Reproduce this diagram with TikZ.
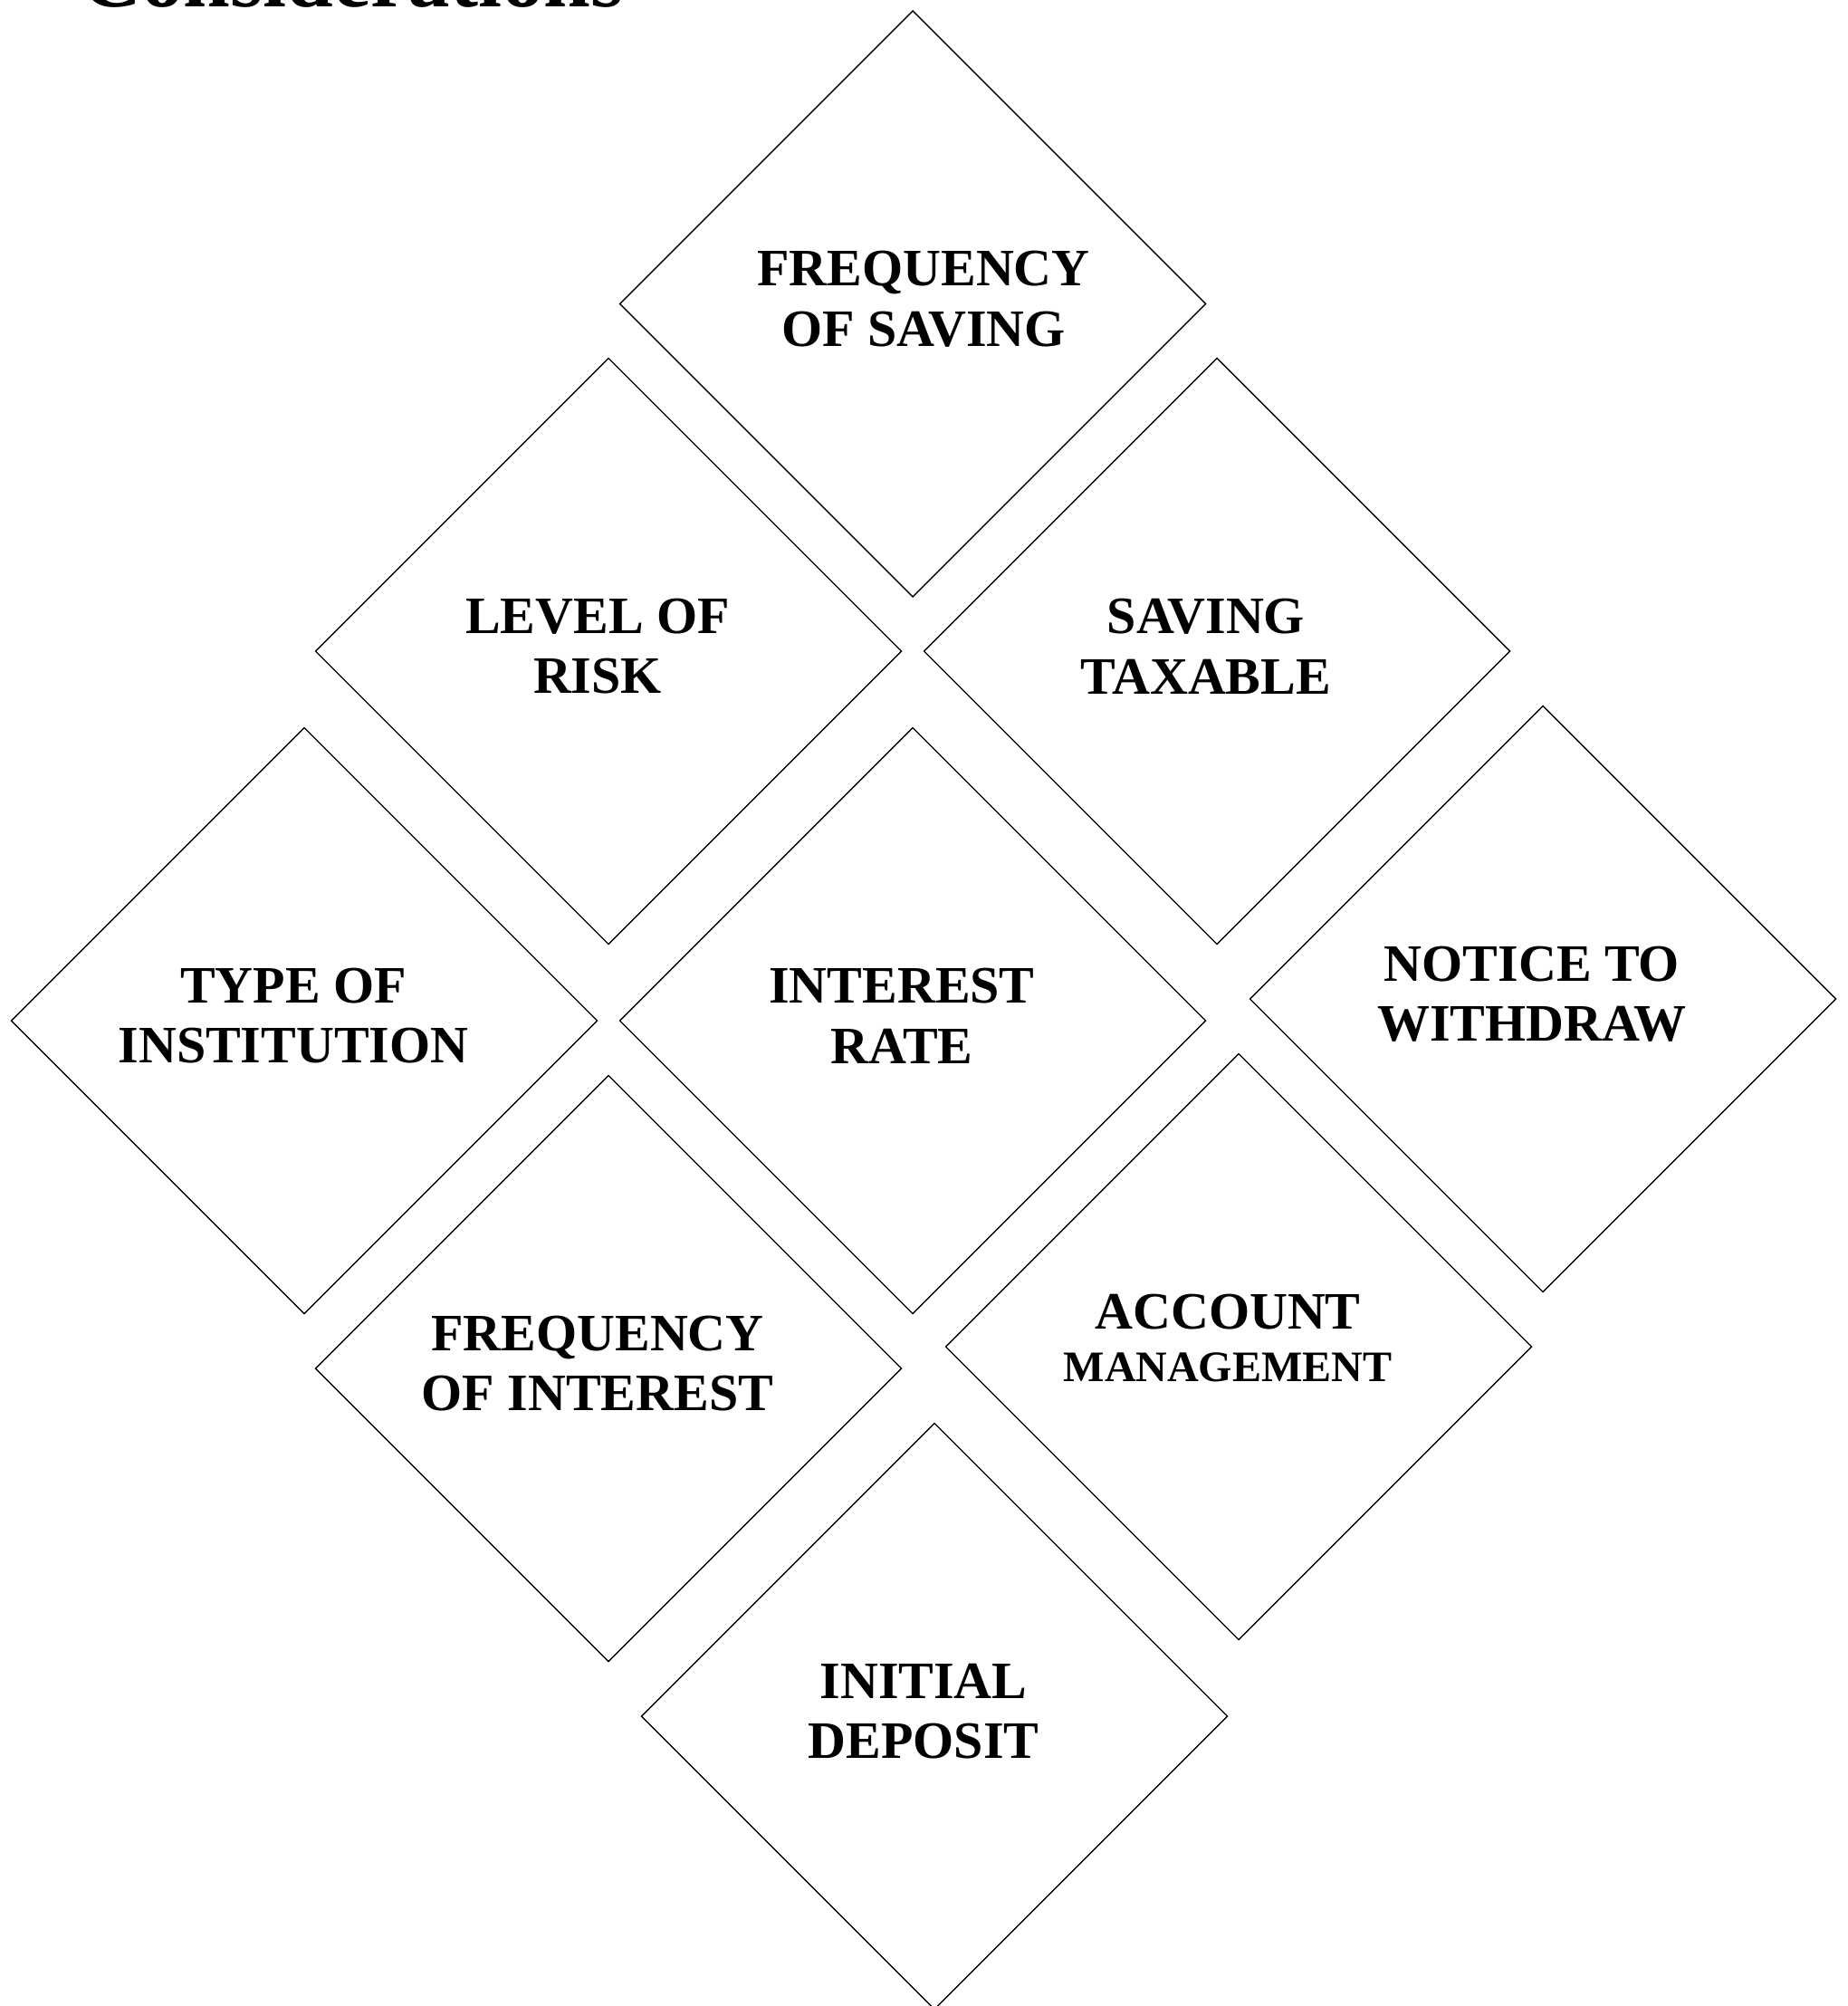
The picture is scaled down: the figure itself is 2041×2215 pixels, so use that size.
\documentclass[tikz,border=0pt]{standalone}
\usepackage{fontspec}
\setmainfont{Liberation Serif}
\usetikzlibrary{shapes.geometric}
\begin{document}
\begin{tikzpicture}[x=1pt,y=-1pt,
  dbox/.style={shape=diamond, draw=black, line width=1.4pt, inner sep=0pt, outer sep=0pt,
    minimum width=647pt, minimum height=647pt, aspect=1},
  lbl/.style={inner sep=0pt, align=center, text=black,
    font=\fontsize{58}{66.5}\selectfont\bfseries},
  ttl/.style={inner sep=0pt, anchor=base west, text=black,
    font=\fontsize{93}{100}\selectfont\bfseries}]
\useasboundingbox (0,0) rectangle (2041,2215);
\fill[white] (0,0) rectangle (2041,2215);

\node[ttl] (title) at (89,8) {Considerations};

\node[dbox] (d1) at (1008,335.5) {};
\node[dbox] (d2) at (672,719) {};
\node[dbox] (d3) at (1344,719) {};
\node[dbox] (d4) at (336,1127) {};
\node[dbox] (d5) at (1008,1127) {};
\node[dbox] (d6) at (1704,1103) {};
\node[dbox] (d7) at (672,1511) {};
\node[dbox] (d8) at (1368,1487) {};
\node[dbox] (d9) at (1032,1895) {};

\node[lbl] (t1) at ([xshift=12pt,yshift=5.3pt]d1.center) {FREQUENCY\\OF SAVING};
\node[lbl] (t2) at ([xshift=-12pt,yshift=5.3pt]d2.center) {LEVEL OF\\RISK};
\node[lbl] (t3) at ([xshift=-12pt,yshift=5.3pt]d3.center) {SAVING\\TAXABLE};
\node[lbl] (t4) at ([xshift=-12pt,yshift=5.3pt]d4.center) {TYPE OF\\INSTITUTION};
\node[lbl] (t5) at ([xshift=-12pt,yshift=5.3pt]d5.center) {INTEREST\\RATE};
\node[lbl] (t6) at ([xshift=-12pt,yshift=5.3pt]d6.center) {NOTICE TO\\WITHDRAW};
\node[lbl] (t7) at ([xshift=-12pt,yshift=5.3pt]d7.center) {FREQUENCY\\OF INTEREST};
\node[lbl] (t8) at ([xshift=-12pt,yshift=9pt]d8.center) {ACCOUNT\\[-8.5pt]{\fontsize{48}{55}\selectfont MANAGEMENT}};
\node[lbl] (t9) at ([xshift=-12pt,yshift=5.3pt]d9.center) {INITIAL\\DEPOSIT};
\end{tikzpicture}
\end{document}
